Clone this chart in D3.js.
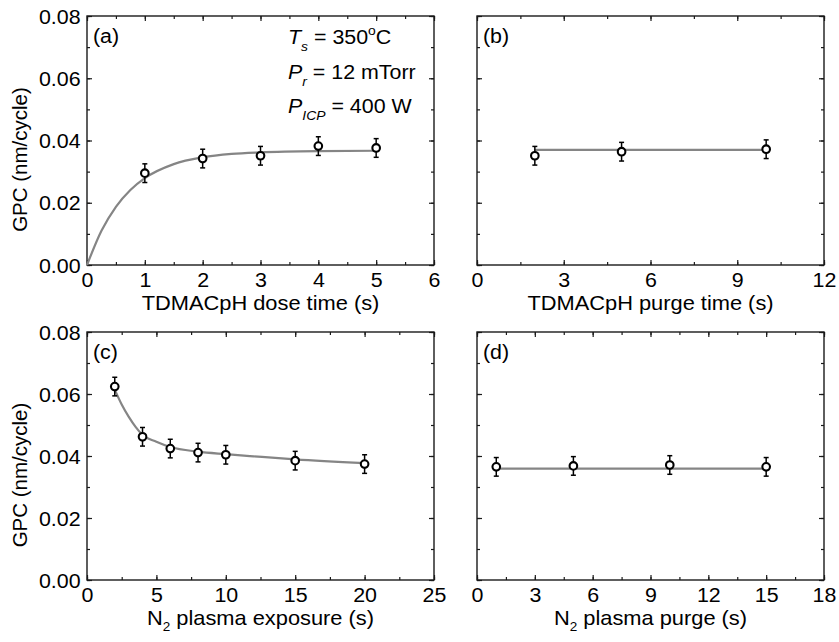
<!DOCTYPE html>
<html>
<head>
<meta charset="utf-8">
<script src="https://cdn.jsdelivr.net/npm/d3@7"></script>
<style>
  html, body { margin: 0; padding: 0; background: #fff; }
  svg { display: block; font-family: "Liberation Sans", Arial, sans-serif; }
</style>
</head>
<body>
<svg id="chart" width="839" height="642"></svg>
<script>
// ---------- data ----------
const doseTime = [1, 2, 3, 4, 5];
const doseGPC  = [0.0295, 0.0342, 0.0351, 0.0382, 0.0376];
const doseErr  = [0.0030, 0.0030, 0.0030, 0.0030, 0.0030];
const doseFitX = [0, 0.25, 0.5, 0.75, 1, 1.5, 2, 2.5, 3, 4, 5];
const doseFitY = [0, 0.0110, 0.0187, 0.0241, 0.0279, 0.0324, 0.0346, 0.0357, 0.0362, 0.0366, 0.0367];

const purgeTime = [2, 5, 10];
const purgeGPC  = [0.0351, 0.0364, 0.0372];
const purgeErr  = [0.0030, 0.0030, 0.0030];
const purgeFitX = [2, 10];
const purgeFitY = [0.0370, 0.0370];

const plasmaTime = [2, 4, 6, 8, 10, 15, 20];
const plasmaGPC  = [0.0624, 0.0462, 0.0424, 0.0411, 0.0404, 0.0385, 0.0374];
const plasmaErr  = [0.0030, 0.0030, 0.0030, 0.0030, 0.0030, 0.0030, 0.0030];
const plasmaFitX = [2, 2.5, 3, 3.5, 4, 5, 6, 8, 10, 12, 15, 20];
const plasmaFitY = [0.0614, 0.0566, 0.0527, 0.0494, 0.0468, 0.0446, 0.0429, 0.0414, 0.0406, 0.0399, 0.0389, 0.0377];

const n2PurgeTime = [1, 5, 10, 15];
const n2PurgeGPC  = [0.0365, 0.0368, 0.0371, 0.0365];
const n2PurgeErr  = [0.0030, 0.0030, 0.0030, 0.0030];
const n2PurgeFitX = [1, 15];
const n2PurgeFitY = [0.0359, 0.0359];

const yTicks = [0, 0.02, 0.04, 0.06, 0.08];
const xTicksA = [0, 1, 2, 3, 4, 5, 6];
const xTicksB = [0, 3, 6, 9, 12];
const xTicksC = [0, 5, 10, 15, 20, 25];
const xTicksD = [0, 3, 6, 9, 12, 15, 18];

// ---------- drawing ----------
const svg = d3.select("#chart");
const FS = 20, SX = 1.07, TFS = 21, TSX = 1.04;
const axisColor = "#1a1a1a";

function panel(cfg) {
  const x = d3.scaleLinear().domain(cfg.xDomain).range([cfg.left, cfg.right]);
  const y = d3.scaleLinear().domain([0, 0.08]).range([cfg.bottom, cfg.top]);
  const g = svg.append("g");

  const styleAxis = sel => {
    sel.select(".domain").remove();
    sel.selectAll("line").attr("stroke", axisColor).attr("stroke-width", 1.2);
    sel.selectAll("text").attr("font-size", FS).attr("fill", "#000")
       .attr("font-family", "'Liberation Sans', Arial, sans-serif");
  };
  const xMinor = d3.range(cfg.xDomain[0], cfg.xDomain[1] + 1e-9, cfg.xMinor);
  const yMinor = d3.range(0, 0.08 + 1e-9, 0.01);

  // minor ticks
  g.append("g").attr("transform", `translate(0,${cfg.bottom})`)
    .call(d3.axisBottom(x).tickValues(xMinor).tickSize(-3).tickFormat("")).call(styleAxis);
  g.append("g").attr("transform", `translate(0,${cfg.top})`)
    .call(d3.axisTop(x).tickValues(xMinor).tickSize(-3).tickFormat("")).call(styleAxis);
  g.append("g").attr("transform", `translate(${cfg.left},0)`)
    .call(d3.axisLeft(y).tickValues(yMinor).tickSize(-3).tickFormat("")).call(styleAxis);
  g.append("g").attr("transform", `translate(${cfg.right},0)`)
    .call(d3.axisRight(y).tickValues(yMinor).tickSize(-3).tickFormat("")).call(styleAxis);

  // major ticks
  const xb = g.append("g").attr("transform", `translate(0,${cfg.bottom})`)
    .call(d3.axisBottom(x).tickValues(cfg.xTicks).tickSize(-5).tickPadding(8).tickFormat(d3.format("d")))
    .call(styleAxis);
  xb.selectAll("text").attr("transform", `scale(${SX},1)`);
  g.append("g").attr("transform", `translate(0,${cfg.top})`)
    .call(d3.axisTop(x).tickValues(cfg.xTicks).tickSize(-5).tickFormat("")).call(styleAxis);
  const yl = g.append("g").attr("transform", `translate(${cfg.left},0)`)
    .call(d3.axisLeft(y).tickValues(yTicks).tickSize(-5).tickPadding(6)
      .tickFormat(cfg.yLabels ? d3.format(".2f") : "")).call(styleAxis);
  yl.selectAll("text").attr("transform", `scale(${SX},1)`).attr("dy", "0.36em");
  g.append("g").attr("transform", `translate(${cfg.right},0)`)
    .call(d3.axisRight(y).tickValues(yTicks).tickSize(-5).tickFormat("")).call(styleAxis);

  // frame
  g.append("rect").attr("x", cfg.left).attr("y", cfg.top)
    .attr("width", cfg.right - cfg.left).attr("height", cfg.bottom - cfg.top)
    .attr("fill", "none").attr("stroke", axisColor).attr("stroke-width", 1.4);

  // fit line
  const fit = cfg.fitX.map((d, i) => [d, cfg.fitY[i]]);
  g.append("path").datum(fit)
    .attr("d", d3.line().x(d => x(d[0])).y(d => y(d[1])).curve(d3.curveMonotoneX))
    .attr("fill", "none").attr("stroke", "#858585").attr("stroke-width", 2.2);

  // error bars + markers
  const pts = cfg.px.map((d, i) => ({x: d, y: cfg.py[i], e: cfg.pe[i]}));
  const eb = g.append("g").attr("stroke", "#000").attr("stroke-width", 1.5);
  pts.forEach(p => {
    eb.append("line").attr("x1", x(p.x)).attr("x2", x(p.x)).attr("y1", y(p.y - p.e)).attr("y2", y(p.y + p.e));
    eb.append("line").attr("x1", x(p.x) - 2.5).attr("x2", x(p.x) + 2.5).attr("y1", y(p.y - p.e)).attr("y2", y(p.y - p.e));
    eb.append("line").attr("x1", x(p.x) - 2.5).attr("x2", x(p.x) + 2.5).attr("y1", y(p.y + p.e)).attr("y2", y(p.y + p.e));
  });
  g.append("g").selectAll("circle").data(pts).join("circle")
    .attr("cx", d => x(d.x)).attr("cy", d => y(d.y)).attr("r", 3.8)
    .attr("fill", "#fff").attr("stroke", "#000").attr("stroke-width", 2.1);

  // panel label
  g.append("text").attr("transform", `translate(${cfg.left + 6},${cfg.top + 27}) scale(${SX},1)`)
    .attr("font-size", FS).text(cfg.label);

  // x title
  const xt = g.append("text")
    .attr("transform", `translate(${(cfg.left + cfg.right) / 2},${cfg.bottom + 45}) scale(${TSX},1)`)
    .attr("text-anchor", "middle").attr("font-size", TFS);
  cfg.xTitle(xt);

  // y title
  if (cfg.yLabels) {
    g.append("text")
      .attr("transform", `translate(27,${(cfg.top + cfg.bottom) / 2 + 19}) rotate(-90)`)
      .attr("text-anchor", "middle").attr("font-size", 20.5).text("GPC (nm/cycle)");
  }
  return {x, y, g};
}

panel({left: 87, right: 434, top: 16, bottom: 265, xDomain: [0, 6], xTicks: xTicksA, xMinor: 0.5,
  yLabels: true, label: "(a)", px: doseTime, py: doseGPC, pe: doseErr, fitX: doseFitX, fitY: doseFitY,
  xTitle: t => t.text("TDMACpH dose time (s)")});
panel({left: 477, right: 824, top: 16, bottom: 265, xDomain: [0, 12], xTicks: xTicksB, xMinor: 1.5,
  yLabels: false, label: "(b)", px: purgeTime, py: purgeGPC, pe: purgeErr, fitX: purgeFitX, fitY: purgeFitY,
  xTitle: t => t.text("TDMACpH purge time (s)")});
panel({left: 87, right: 434, top: 332, bottom: 580, xDomain: [0, 25], xTicks: xTicksC, xMinor: 2.5,
  yLabels: true, label: "(c)", px: plasmaTime, py: plasmaGPC, pe: plasmaErr, fitX: plasmaFitX, fitY: plasmaFitY,
  xTitle: t => { t.append("tspan").text("N");
                 t.append("tspan").attr("font-size", 13).attr("dy", 6).text("2");
                 t.append("tspan").attr("dy", -6).text(" plasma exposure (s)"); }});
panel({left: 477, right: 824, top: 332, bottom: 580, xDomain: [0, 18], xTicks: xTicksD, xMinor: 1.5,
  yLabels: false, label: "(d)", px: n2PurgeTime, py: n2PurgeGPC, pe: n2PurgeErr, fitX: n2PurgeFitX, fitY: n2PurgeFitY,
  xTitle: t => { t.append("tspan").text("N");
                 t.append("tspan").attr("font-size", 13).attr("dy", 6).text("2");
                 t.append("tspan").attr("dy", -6).text(" plasma purge (s)"); }});

// annotation in panel (a)
const ann = [
  {main: "T", sub: "s", rest: " = 350", sup: "o", tail: "C"},
  {main: "P", sub: "r", rest: " = 12 mTorr"},
  {main: "P", sub: "ICP", rest: " = 400 W"}
];
ann.forEach((a, i) => {
  const t = svg.append("text")
    .attr("transform", `translate(288,${44 + i * 34.5}) scale(${SX},1)`)
    .attr("font-size", FS);
  t.append("tspan").attr("font-style", "italic").text(a.main);
  t.append("tspan").attr("font-style", "italic").attr("font-size", 13).attr("dy", 7).text(a.sub);
  t.append("tspan").attr("dy", -7).text(a.rest);
  if (a.sup) {
    t.append("tspan").attr("font-size", 13).attr("dy", -9).text(a.sup);
    t.append("tspan").attr("dy", 9).text(a.tail);
  }
});
</script>
</body>
</html>
